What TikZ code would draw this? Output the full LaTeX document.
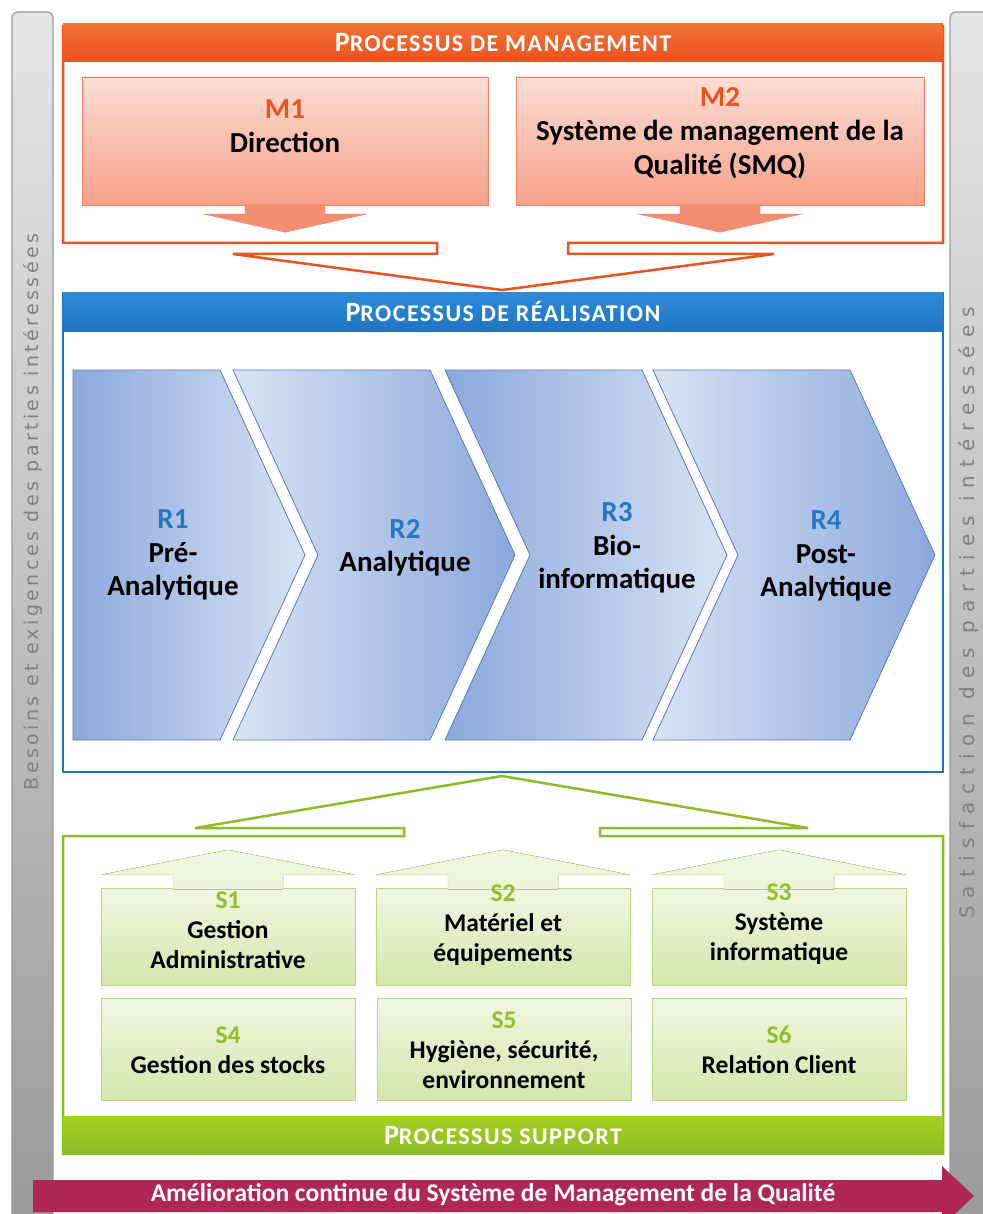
\documentclass[tikz,border=0pt]{standalone}
\usepackage{fontspec}
\setmainfont{Carlito}
\newfontfamily\needsfont[LetterSpace=18]{DejaVu Sans}
\newfontfamily\satisffont[LetterSpace=40]{DejaVu Sans}
\newfontfamily\headfont[LetterSpace=6]{Carlito}
\usetikzlibrary{positioning}
\definecolor{qm-grey}{RGB}        {128, 128, 128}
\definecolor{qm-orange}{RGB}      {233,  84,  32}
\definecolor{qm-orangetop}{RGB}   {245, 112,  52}
\definecolor{qm-pinklight}{RGB}   {252, 222, 212}
\definecolor{qm-pinkdark}{RGB}    {247, 160, 138}
\definecolor{qm-salmon}{RGB}      {244, 142, 114}
\definecolor{qm-salmonline}{RGB}  {240, 130, 100}
\definecolor{qm-blue}{RGB}        { 31, 116, 196}
\definecolor{qm-bluetop}{RGB}     { 45, 140, 215}
\definecolor{qm-rblue}{RGB}       { 36, 120, 196}
\definecolor{qm-chevdark}{RGB}    {140, 168, 220}
\definecolor{qm-chevlight}{RGB}   {216, 227, 244}
\definecolor{qm-chevline}{RGB}    { 80, 125, 190}
\definecolor{qm-green}{RGB}       {140, 188,  38}
\definecolor{qm-greentop}{RGB}    {166, 208,  30}
\definecolor{qm-sgreen}{RGB}      {146, 192,  39}
\definecolor{qm-sboxlight}{RGB}   {240, 247, 226}
\definecolor{qm-sboxdark}{RGB}    {212, 230, 172}
\definecolor{qm-sboxline}{RGB}    {185, 214, 125}
\definecolor{qm-maroon}{RGB}      {176,  38,  84}
\newcommand{\proctitle}[2]{{\fontsize{28}{28}\selectfont #1}{\fontsize{24}{24}\selectfont #2}}

\begin{document}
\begin{tikzpicture}[x=1pt,y=-1pt,
	procbar/.style={text=white,font=\headfont\bfseries,inner sep=0pt,minimum width=880pt,minimum height=38pt},
	mbox/.style={draw=qm-salmonline,top color=qm-pinklight,bottom color=qm-pinkdark,minimum width=406pt,minimum height=128pt},
	marrow/.style={fill=qm-salmon,draw=qm-salmonline},
	mtext/.style={align=center,font=\fontsize{29}{34}\selectfont\bfseries},
	chev/.style={draw=qm-chevline,line width=0.8pt},
	rtext/.style={align=center,font=\fontsize{29}{33.5}\selectfont\bfseries},
	sbox/.style={draw=qm-sboxline,top color=qm-sboxlight,bottom color=qm-sboxdark,minimum width=254pt},
	sarrow/.style={top color=qm-sboxlight,bottom color=qm-sboxlight!80!qm-sboxdark,draw=qm-sboxline},
	stext/.style={align=center,font=\fontsize{25.5}{30}\selectfont\bfseries},
	greybar/.style={draw=qm-grey!80,line width=1.2pt,top color=black!10,bottom color=black!40,rounded corners=6pt}]

\useasboundingbox (0,0) rectangle (982,1214);

% side bars
\draw[greybar] (12,1240) rectangle (53,12);
\draw[greybar] (950,1240) rectangle (1010,12);
\node[rotate=90,text=qm-grey,font=\needsfont\fontsize{19}{19}\selectfont] (needs) at (33,512)
	{Besoins et exigences des parties intéressées};
\node[rotate=90,text=qm-grey,font=\satisffont\fontsize{20}{20}\selectfont] (satisf) at (969,613)
	{Satisfaction des parties intéressées};

% management
\draw[qm-orange,line width=2.5pt,line join=miter] (63,25) -- (63,243) -- (437,243) -- (437,254) -- (233,254)
	-- (502,290) -- (774,254) -- (568,254) -- (568,243) -- (943,243) -- (943,25);
\node[procbar,top color=qm-orangetop,bottom color=qm-orange] (mtitle) at (503,43) {\proctitle{P}{ROCESSUS DE MANAGEMENT}};
\node[mbox] (m1) at (285,141) {};
\node[mbox,minimum width=408pt] (m2) at (720,141) {};
\filldraw[marrow,shift={(m1.south)}] (-40,-1) -- (-40,9) -- (-81,9) -- (0,27) -- (81,9) -- (40,9) -- (40,-1);
\filldraw[marrow,shift={(m2.south)}] (-40,-1) -- (-40,9) -- (-81,9) -- (0,27) -- (81,9) -- (40,9) -- (40,-1);
\node[mtext] (m1t) at (285,126) {\textcolor{qm-orange}{M1}\\Direction};
\node[mtext] (m2t) at (720,133) {\textcolor{qm-orange}{M2}\\Système de management de la\\Qualité (SMQ)};

% realisation
\draw[qm-blue,line width=2.5pt] (63,293) rectangle (943,772);
\node[procbar,top color=qm-bluetop,bottom color=qm-blue] (rtitle) at (503,312) {\proctitle{P}{ROCESSUS DE RÉALISATION}};
\draw[chev,left color=qm-chevdark,right color=qm-chevlight] (73,370) -- (220,370) -- (305,555) -- (220,740) -- (73,740) -- cycle;
\foreach \x/\lc/\rc in {233/qm-chevlight/qm-chevdark, 445/qm-chevdark/qm-chevlight, 653/qm-chevlight/qm-chevdark}
	\draw[chev,left color=\lc,right color=\rc] (\x,370) -- ++(197,0) -- ++(85,185) -- ++(-85,185) -- ++(-197,0) -- ++(85,-185) -- cycle;
\node[rtext] (r1) at (173,555) {\textcolor{qm-rblue}{R1}\\Pré-\\Analytique};
\node[rtext] (r2) at (405,548) {\textcolor{qm-rblue}{R2}\\Analytique};
\node[rtext] (r3) at (617,548) {\textcolor{qm-rblue}{R3}\\Bio-\\informatique};
\node[rtext] (r4) at (826,556) {\textcolor{qm-rblue}{R4}\\Post-\\Analytique};

% support
\draw[qm-green,line width=2.5pt,line join=miter] (63,1155) -- (63,836) -- (404,836) -- (404,828) -- (195,828)
	-- (502,776) -- (808,828) -- (600,828) -- (600,836) -- (943,836) -- (943,1155);
\node[procbar,top color=qm-greentop,bottom color=qm-green] (stitle) at (503,1135.5) {\proctitle{P}{ROCESSUS SUPPORT}};
\node[sbox,minimum height=97pt] (s1) at (228,936.5) {};
\node[sbox,minimum height=97pt] (s2) at (503,936.5) {};
\node[sbox,minimum height=97pt] (s3) at (779,936.5) {};
\node[sbox,minimum height=102pt] (s4) at (228,1049) {};
\node[sbox,minimum height=102pt] (s5) at (504,1049) {};
\node[sbox,minimum height=102pt] (s6) at (779,1049) {};
\foreach \s in {s1,s2,s3}
	\filldraw[sarrow,shift={(\s.north)}] (-55,1.5) -- (-55,-13) -- (-127,-13) -- (0,-38) -- (127,-13) -- (55,-13) -- (55,1.5);
\node[stext] (s1t) at (228,930) {\textcolor{qm-sgreen}{S1}\\Gestion\\Administrative};
\node[stext] (s2t) at (503,925) {\textcolor{qm-sgreen}{S2}\\Matériel et\\équipements};
\node[stext] (s3t) at (779,924) {\textcolor{qm-sgreen}{S3}\\Système\\informatique};
\node[stext] (s4t) at (228,1050) {\textcolor{qm-sgreen}{S4}\\Gestion des stocks};
\node[stext] (s5t) at (504,1050) {\textcolor{qm-sgreen}{S5}\\Hygiène, sécurité,\\environnement};
\node[stext] (s6t) at (779,1050) {\textcolor{qm-sgreen}{S6}\\Relation Client};

% amelioration continue
\fill[qm-maroon] (33,1180) -- (942,1180) -- (942,1166) -- (974,1196) -- (942,1226) -- (942,1212) -- (33,1212) -- cycle;
\node[text=white,font=\fontsize{25.5}{25.5}\selectfont\bfseries] (improve) at (493,1195)
	{Amélioration continue du Système de Management de la Qualité};

\end{tikzpicture}
\end{document}
